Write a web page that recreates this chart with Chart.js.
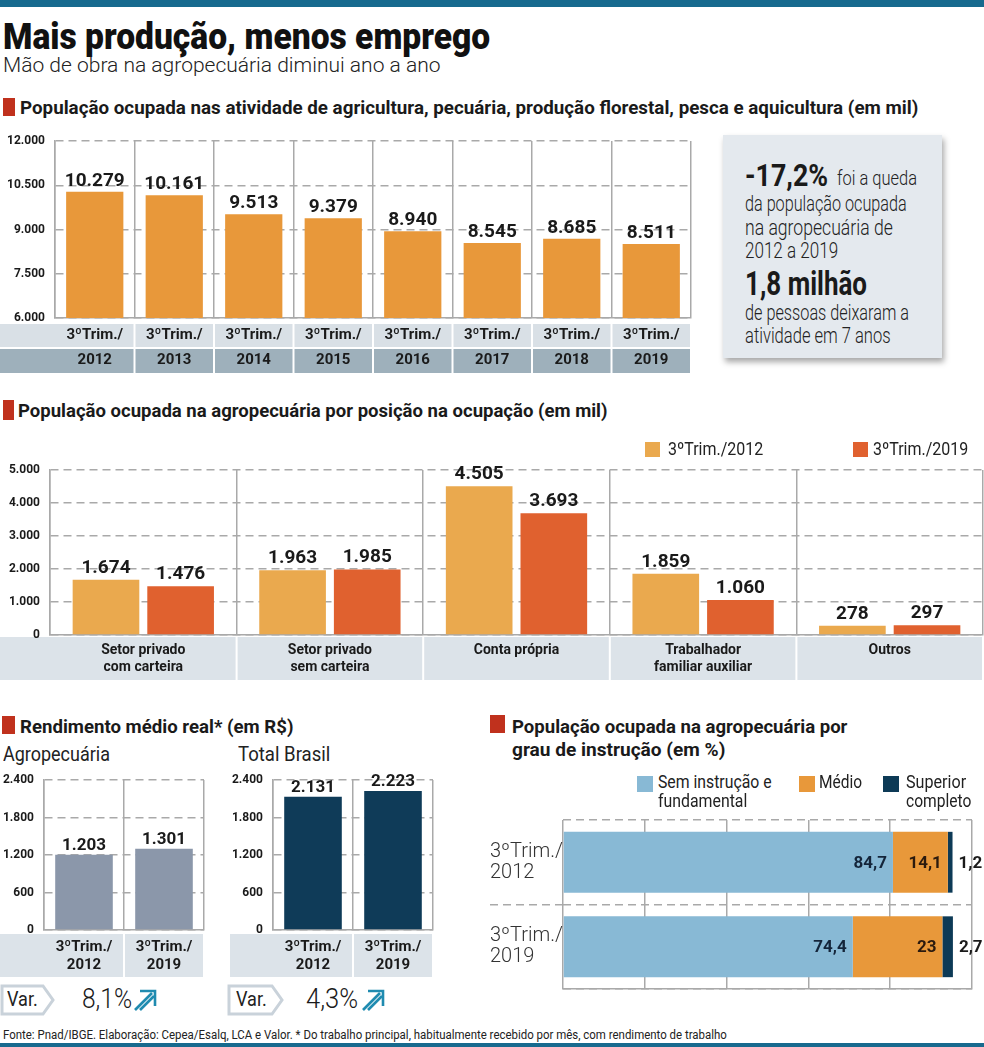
<!DOCTYPE html>
<html><head><meta charset="utf-8">
<script src="https://cdn.jsdelivr.net/npm/chart.js@4.4.1/dist/chart.umd.min.js"></script>
<style>
html,body{margin:0;padding:0;background:#fff}
#page{position:relative;width:984px;height:1047px;overflow:hidden;font-family:Roboto,"Open Sans",sans-serif;color:#1a1a1a}
.t{position:absolute;white-space:nowrap;line-height:1;transform-origin:0 0}
.box{position:absolute}
canvas{position:absolute}
</style></head>
<body><div id="page">
<div class="box" style="left:0;top:0;width:984px;height:7px;background:#176a8e"></div>
<div class="box" style="left:0;top:1043px;width:984px;height:4px;background:#176a8e"></div>
<div class="box" style="left:723px;top:135px;width:219px;height:223px;background:#e4e9ee;box-shadow:2px 4px 6px rgba(0,0,0,.35)"></div>

<canvas id="c1" width="700" height="245" style="left:0;top:130px"></canvas>
<canvas id="c2" width="984" height="230" style="left:0;top:455px"></canvas>
<canvas id="c3a" width="206" height="210" style="left:0;top:770px"></canvas>
<canvas id="c3b" width="210" height="210" style="left:225px;top:770px"></canvas>
<canvas id="c4" width="494" height="190" style="left:490px;top:810px"></canvas>

<svg class="box" style="left:0;top:984px" width="60" height="34"><polygon points="2,2 43,2 53,16 43,30 2,30" fill="#fff" stroke="#c9d2da" stroke-width="3"/></svg>
<svg class="box" style="left:227px;top:984px" width="60" height="34"><polygon points="2,2 45,2 55,16 45,30 2,30" fill="#fff" stroke="#c9d2da" stroke-width="3"/></svg>
<svg class="box" style="left:133px;top:989px" width="24" height="23"><g stroke="#1f8bb0" stroke-width="2.6" fill="none"><path d="M2 21 L19 4"/><path d="M7 21 L21 7"/><path d="M7 2 H22 V17"/></g></svg>
<svg class="box" style="left:361px;top:989px" width="24" height="23"><g stroke="#1f8bb0" stroke-width="2.6" fill="none"><path d="M2 21 L19 4"/><path d="M7 21 L21 7"/><path d="M7 2 H22 V17"/></g></svg>
</div>
<script>
// dados
const years = ['2012','2013','2014','2015','2016','2017','2018','2019'];
const occupied = [10279,10161,9513,9379,8940,8545,8685,8511];
const yTicks1 = [6000,7500,9000,10500,12000];

const positions = [['Setor privado','com carteira'],['Setor privado','sem carteira'],['Conta própria'],['Trabalhador','familiar auxiliar'],['Outros']];
const pos2012 = [1674,1963,4505,1859,278];
const pos2019 = [1476,1985,3693,1060,297];

const periods = ['2012','2019'];
const incomeAgro = [1203,1301];
const incomeBrasil = [2131,2223];

const eduBasic = [84.7,74.4];
const eduMid = [14.1,23];
const eduHigher = [1.2,2.7];

const page = document.getElementById('page');
const fmt = v => String(v).replace(/\B(?=(\d{3})+(?!\d))/g,'.');
const dec = v => String(v).replace('.',',');

function txt(s, x, b, fs, w, weight, color){
  const e = document.createElement('div');
  e.className = 't'; e.textContent = s;
  e.style.left = x+'px'; e.style.top = (b-0.84*fs)+'px'; e.style.fontSize = fs+'px';
  if(weight) e.style.fontWeight = weight;
  if(color) e.style.color = color;
  if(w) e.dataset.w = w;
  page.appendChild(e); return e;
}
function sq(x,y,w,h,c){
  const e = document.createElement('div'); e.className='box';
  Object.assign(e.style,{left:x+'px',top:y+'px',width:w+'px',height:h+'px',background:c});
  page.appendChild(e);
}

// cabeçalho
txt('Mais produção, menos emprego', 3, 49, 36, 487, 900, '#111');
txt('Mão de obra na agropecuária diminui ano a ano', 3, 73, 21, 437, 300, '#222');
sq(3,98,12,18,'#c0311d');
txt('População ocupada nas atividade de agricultura, pecuária, produção florestal, pesca e aquicultura (em mil)', 20, 114, 18, 898, 700);

// quadro
txt('-17,2%', 745, 186, 31, 83, 700, '#1a1a1a');
txt('foi a queda', 837, 186, 21, 80, 300, '#222');
txt('da população ocupada', 745, 211, 22, 162, 300, '#222');
txt('na agropecuária de', 745, 235, 22, 148, 300, '#222');
txt('2012 a 2019', 745, 258, 22, 93, 300, '#222');
txt('1,8 milhão', 745, 295, 33, 122, 700, '#1a1a1a');
txt('de pessoas deixaram a', 745, 320, 22, 164, 300, '#222');
txt('atividade em 7 anos', 745, 343, 22, 146, 300, '#222');

// seção 2
sq(3,400,11,20,'#c0311d');
txt('População ocupada na agropecuária por posição na ocupação (em mil)', 18, 417, 18, 590, 700);
sq(645,442,15,15,'#eaa94e');
txt('3ºTrim./2012', 668, 455, 18, 95, 400, '#222');
sq(853,442,15,15,'#e0612f');
txt('3ºTrim./2019', 873, 455, 18, 95, 400, '#222');

// seção 3
sq(2,716,13,18,'#c0311d');
txt('Rendimento médio real* (em R$)', 20, 733, 18, 273, 700);
txt('Agropecuária', 3, 762, 21, 107, 400, '#222');
txt('Total Brasil', 238, 762, 21, 92, 400, '#222');
txt('Var.', 7, 1007, 21, 31, 400, '#222');
txt('8,1%', 82, 1009, 27, 50, 300, '#1a1a1a');
txt('Var.', 236, 1007, 21, 31, 400, '#222');
txt('4,3%', 306, 1009, 27, 52, 300, '#1a1a1a');

// seção 4
sq(490,715,15,18,'#c0311d');
txt('População ocupada na agropecuária por', 512, 733, 18, 335, 700);
txt('grau de instrução (em %)', 512, 756, 18, 213, 700);
sq(637,776,16,16,'#88b9d5');
txt('Sem instrução e', 658, 788, 18, 114, 400, '#222');
txt('fundamental', 658, 807, 18, 89, 400, '#222');
sq(799,776,16,16,'#e8983a');
txt('Médio', 819, 788, 18, 43, 400, '#222');
sq(883,776,16,16,'#0d3a56');
txt('Superior', 906, 788, 18, 60, 400, '#222');
txt('completo', 906, 807, 18, 65, 400, '#222');

txt('Fonte: Pnad/IBGE. Elaboração: Cepea/Esalq, LCA e Valor. * Do trabalho principal, habitualmente recebido por mês, com rendimento de trabalho', 3, 1039, 12, 724, 400, '#222');

function fitAll(){
  document.querySelectorAll('[data-w]').forEach(e=>{
    const w = e.offsetWidth;
    if(w) e.style.transform = 'scaleX('+(e.dataset.w/w)+')';
  });
}
fitAll();
if(document.fonts) document.fonts.ready.then(fitAll);

// plugins
const bands = {id:'bands', beforeDraw(chart, a, o){
  const x = chart.scales.x, ctx = chart.ctx, b = chart.chartArea.bottom;
  const n = chart.data.labels.length;
  const half = (x.getPixelForValue(1)-x.getPixelForValue(0))/2;
  ctx.save();
  o.rows.forEach(r=>{
    ctx.fillStyle = r[2];
    for(let i=0;i<n;i++){
      const c = x.getPixelForValue(i);
      const l = i===0 ? o.first : c-half+1;
      const rr = c+half-1;
      ctx.fillRect(l, b+r[0], rr-l, r[1]-r[0]);
    }
  });
  ctx.restore();
}};

const values = {id:'values', afterDatasetsDraw(chart, a, o){
  const ctx = chart.ctx;
  ctx.save();
  ctx.font = o.font;
  chart.data.datasets.forEach((ds,i)=>{
    chart.getDatasetMeta(i).data.forEach((el,j)=>{
      const v = ds.data[j];
      const s = o.decimal ? dec(v) : fmt(v);
      if(o.horizontal){
        ctx.fillStyle = o.colors[i];
        ctx.textBaseline = 'middle';
        if(o.modes[i]==='out'){ ctx.textAlign='left'; ctx.fillText(s, el.x+o.gap, el.y+1); }
        else { ctx.textAlign='right'; ctx.fillText(s, el.x-o.gap, el.y+1); }
      } else {
        ctx.fillStyle = '#1a1a1a';
        ctx.textAlign = 'center'; ctx.textBaseline = 'alphabetic';
        ctx.fillText(s, el.x, el.y-o.gap);
      }
    });
  });
  ctx.restore();
}};

Chart.defaults.font.family = 'Roboto';
Chart.defaults.color = '#1a1a1a';
const GRID = '#a9a9a9';
const DASH = [8,5];

function yAxis(min, max, step, width){
  return {
    min, max,
    ticks:{stepSize:step, font:{size:12, weight:'bold'}, color:'#1a1a1a', padding:10, callback:v=>fmt(v)},
    grid:{color:GRID, lineWidth:1.5, drawTicks:false},
    border:{color:GRID, width:1.5, dash:DASH},
    afterFit:s=>{ s.width = width; s.paddingTop = 0; s.paddingBottom = 0; }
  };
}
function xAxis(height, size, lh, pad){
  return {
    grid:{color:GRID, lineWidth:1.5, drawTicks:false},
    border:{color:GRID, width:1.5},
    ticks:{font:{size, weight:'bold', lineHeight:lh}, color:'#1a1a1a', padding:pad, maxRotation:0, autoSkip:false},
    afterFit:s=>{ s.height = height; s.paddingLeft = 0; s.paddingRight = 0; }
  };
}
const base = {responsive:false, animation:false, events:[]};

// gráfico 1
new Chart(document.getElementById('c1'), {
  type:'bar',
  data:{labels: years.map(y=>['3ºTrim./', y]),
    datasets:[{data:occupied, backgroundColor:'#e8983a', barPercentage:0.72, categoryPercentage:1}]},
  options:{...base,
    layout:{padding:{top:11, right:9, left:0, bottom:0}},
    plugins:{legend:{display:false}, tooltip:{enabled:false},
      bands:{rows:[[6,29,'#d9e0e6'],[31,55,'#9eb0bb']], first:0},
      values:{font:'bold 19px Roboto', gap:6}},
    scales:{
      x: xAxis(57, 15, '25px', 4.5),
      y: yAxis(yTicks1[0], yTicks1[yTicks1.length-1], yTicks1[1]-yTicks1[0], 55)
    }},
  plugins:[bands, values]
});

// gráfico 2
new Chart(document.getElementById('c2'), {
  type:'bar',
  data:{labels: positions,
    datasets:[
      {label:'3ºTrim./2012', data:pos2012, backgroundColor:'#eaa94e', barPercentage:0.893, categoryPercentage:0.8},
      {label:'3ºTrim./2019', data:pos2019, backgroundColor:'#e0612f', barPercentage:0.893, categoryPercentage:0.8}
    ]},
  options:{...base,
    layout:{padding:{top:15, right:1, left:0, bottom:0}},
    plugins:{legend:{display:false}, tooltip:{enabled:false},
      bands:{rows:[[2,45,'#dce3e9']], first:0},
      values:{font:'bold 19px Roboto', gap:7}},
    scales:{
      x: xAxis(50, 14, '17px', 6.5),
      y: yAxis(0, 5000, 1000, 50)
    }},
  plugins:[bands, values]
});

// gráficos 3
function incomeChart(id, data, color, yw, first){
  new Chart(document.getElementById(id), {
    type:'bar',
    data:{labels: periods.map(p=>['3ºTrim./', p]),
      datasets:[{data, backgroundColor:color, barPercentage:0.72, categoryPercentage:1}]},
    options:{...base,
      layout:{padding:{top:10, right:2, left:0, bottom:0}},
      plugins:{legend:{display:false}, tooltip:{enabled:false},
        bands:{rows:[[4,47,'#dce3e9']], first},
        values:{font:'bold 17px Roboto', gap:5}},
      scales:{
        x: xAxis(50, 15, '18px', 8),
        y: yAxis(0, 2400, 600, yw)
      }},
    plugins:[bands, values]
  });
}
incomeChart('c3a', incomeAgro, '#8b97aa', 44, 0);
incomeChart('c3b', incomeBrasil, '#0f3b58', 48, 5);

// gráfico 4
new Chart(document.getElementById('c4'), {
  type:'bar',
  data:{labels: periods.map(p=>['3ºTrim./', p]),
    datasets:[
      {label:'Sem instrução e fundamental', data:eduBasic, backgroundColor:'#88b9d5'},
      {label:'Médio', data:eduMid, backgroundColor:'#e8983a'},
      {label:'Superior completo', data:eduHigher, backgroundColor:'#0d3a56'}
    ].map(d=>({...d, barPercentage:0.72, categoryPercentage:1}))},
  options:{...base, indexAxis:'y',
    layout:{padding:{top:10, right:12, left:0, bottom:0}},
    plugins:{legend:{display:false}, tooltip:{enabled:false},
      values:{font:'bold 17px Roboto', gap:6, decimal:true, horizontal:true,
        modes:['in','in','out'], colors:['#14253a','#2b1a0e','#1a1a1a']}},
    scales:{
      x:{stacked:true, min:0, max:105, ticks:{display:false, stepSize:21},
        grid:{color:GRID, lineWidth:1.5, drawTicks:false}, border:{color:GRID, width:1.5},
        afterFit:s=>{ s.height = 11; s.paddingLeft = 0; s.paddingRight = 0; }},
      y:{stacked:true,
        ticks:{font:{size:20, weight:'300', lineHeight:'21px'}, color:'#333', crossAlign:'far'},
        grid:{color:GRID, lineWidth:1.5, tickLength:73, tickWidth:1.5, tickBorderDash:DASH,
          tickColor:c=>c.index===1 ? GRID : 'rgba(0,0,0,0)'},
        border:{display:false, dash:DASH},
        afterFit:s=>{ s.width = 73; s.paddingTop = 0; s.paddingBottom = 0; }}
    }},
  plugins:[values]
});
</script>
</body></html>
